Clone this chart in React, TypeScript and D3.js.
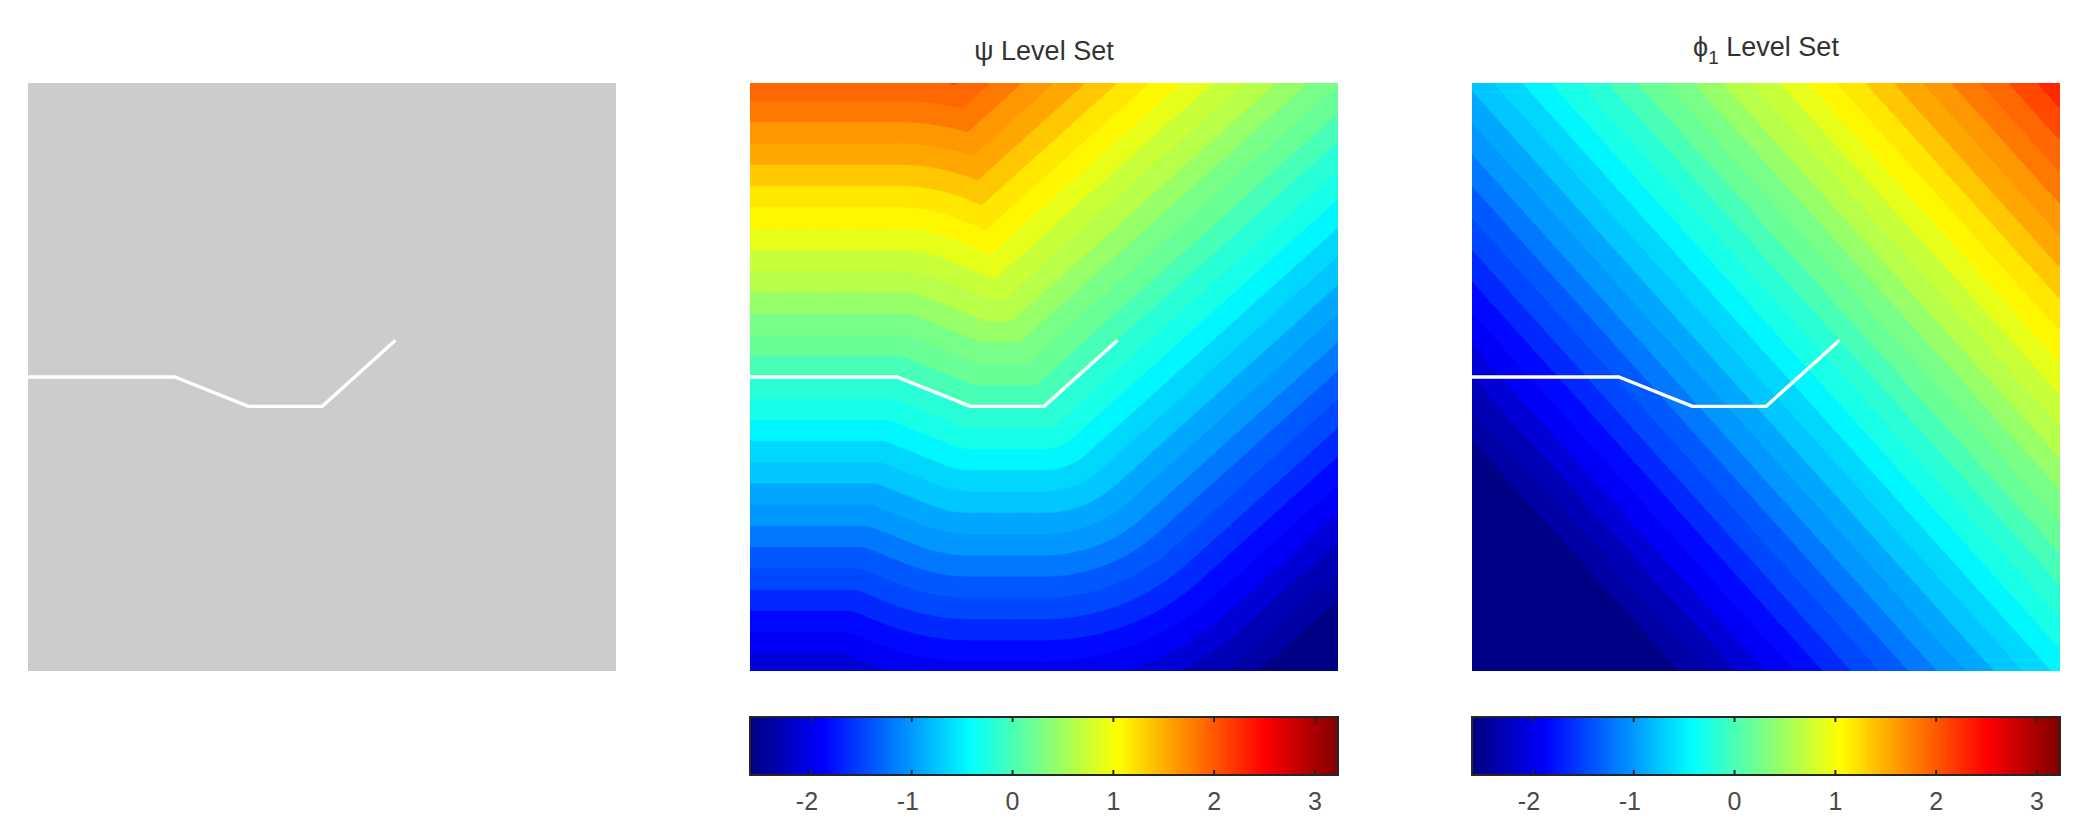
import React, { useMemo } from "react";
import * as d3 from "d3";

// ---------- data ----------
const crackU = [0, 0.25, 0.375, 0.5, 0.625];
const crackV = [0.5, 0.5, 0.45, 0.45, 0.5625];
const colorTicks = [-2, -1, 0, 1, 2, 3];
const cLim = [-2.605, 3.229];
const fieldScale = 4.15; // level-set units per panel width
const levelStep = 0.15;
const levelOffset = 0.0;
const panelTitles = ["", "ψ", "ϕ"];

// ---------- layout ----------
const W = 2086;
const H = 839;
const PANEL = 588;
const TOP = 83;
const panelLefts = [28, 750, 1472];
const CB_TOP = 717;
const CB_H = 58;
const GRID = 220;

function clamp01(x: number) {
  return Math.max(0, Math.min(1, x));
}
function jetCont(x: number) {
  const r = clamp01(1.5 - Math.abs(4 * x - 3));
  const g = clamp01(1.5 - Math.abs(4 * x - 2));
  const b = clamp01(1.5 - Math.abs(4 * x - 1));
  return d3.rgb(r * 255, g * 255, b * 255).formatHex();
}
function jet(t: number) {
  const idx = Math.max(0, Math.min(63, Math.floor(t * 64)));
  return jetCont((idx + 0.5) / 64);
}

function segDist(px: number, py: number, ax: number, ay: number, bx: number, by: number) {
  const dx = bx - ax, dy = by - ay;
  const l2 = dx * dx + dy * dy;
  let t = ((px - ax) * dx + (py - ay) * dy) / l2;
  t = Math.max(0, Math.min(1, t));
  const qx = ax + t * dx, qy = ay + t * dy;
  return Math.hypot(px - qx, py - qy);
}

function buildFields() {
  const n = crackU.length;
  const tx = crackU[n - 1], ty = crackV[n - 1];
  const ddx = tx - crackU[n - 2], ddy = ty - crackV[n - 2];
  const dl = Math.hypot(ddx, ddy);
  const ux = ddx / dl, uy = ddy / dl;
  const xs = [...crackU, tx + ux * 4];
  const ys = [...crackV, ty + uy * 4];
  const psi = new Array(GRID * GRID);
  const phi = new Array(GRID * GRID);
  for (let j = 0; j < GRID; j++) {
    const v = 1 - (j + 0.5) / GRID;
    for (let i = 0; i < GRID; i++) {
      const u = (i + 0.5) / GRID;
      let d = Infinity;
      for (let k = 0; k < xs.length - 1; k++) {
        d = Math.min(d, segDist(u, v, xs[k], ys[k], xs[k + 1], ys[k + 1]));
      }
      let yc = ys[ys.length - 1];
      for (let k = 0; k < xs.length - 1; k++) {
        if (u >= xs[k] && u <= xs[k + 1]) {
          yc = ys[k] + ((u - xs[k]) / (xs[k + 1] - xs[k])) * (ys[k + 1] - ys[k]);
          break;
        }
      }
      const s = v >= yc ? 1 : -1;
      psi[j * GRID + i] = fieldScale * s * d;
      phi[j * GRID + i] = fieldScale * ((u - tx) * ux + (v - ty) * uy);
    }
  }
  return { psi, phi };
}

function Bands({ values, x0 }: { values: number[]; x0: number }) {
  const ext = d3.extent(values) as [number, number];
  const levels: number[] = [];
  for (let L = Math.ceil((ext[0] - levelOffset) / levelStep) * levelStep + levelOffset; L <= ext[1]; L += levelStep) levels.push(L);
  const contours = d3.contours().size([GRID, GRID]).thresholds(levels)(values);
  const path = d3.geoPath(d3.geoIdentity().scale(PANEL / GRID).translate([x0, TOP]) as any);
  const cs = d3.scaleLinear().domain(cLim).range([0, 1]);
  return (
    <g>
      <rect x={x0} y={TOP} width={PANEL} height={PANEL} fill={jet(cs(ext[0]))} />
      {contours.map((c, i) => (
        <path key={i} d={path(c as any) || ""} fill={jet(cs(c.value))} stroke={jet(cs(c.value))} strokeWidth={0.4} />
      ))}
    </g>
  );
}

function Crack({ x0 }: { x0: number }) {
  const xs = d3.scaleLinear().domain([0, 1]).range([x0, x0 + PANEL]);
  const ys = d3.scaleLinear().domain([0, 1]).range([TOP + PANEL, TOP]);
  const line = d3
    .line<number>()
    .x((_, i) => xs(crackU[i]))
    .y((_, i) => ys(crackV[i]));
  return <path d={line(crackU) || ""} fill="none" stroke="#ffffff" strokeWidth={3.4} strokeLinejoin="round" />;
}

function ColorBar({ x0, id }: { x0: number; id: string }) {
  const sx = d3.scaleLinear().domain(cLim).range([x0, x0 + PANEL]);
  const stops = d3.range(0, 1.0001, 1 / 64);
  return (
    <g>
      <defs>
        <linearGradient id={id} x1="0" x2="1" y1="0" y2="0">
          {stops.map((s, k) => (
            <stop key={k} offset={s} stopColor={jetCont(s)} />
          ))}
        </linearGradient>
      </defs>
      <rect x={x0} y={CB_TOP} width={PANEL} height={CB_H} fill={`url(#${id})`} />
      <rect x={x0} y={CB_TOP} width={PANEL} height={CB_H} fill="none" stroke="#262626" strokeWidth={2} />
      {colorTicks.map((t) => (
        <g key={t}>
          <line x1={sx(t)} x2={sx(t)} y1={CB_TOP} y2={CB_TOP + 5} stroke="#262626" strokeWidth={2} />
          <line x1={sx(t)} x2={sx(t)} y1={CB_TOP + CB_H} y2={CB_TOP + CB_H - 5} stroke="#262626" strokeWidth={2} />
          <text
            x={sx(t) - (t < 0 ? 4 : 0)}
            y={810}
            textAnchor="middle"
            fontSize={25}
            fill="#4a4a4a"
            fontFamily="Liberation Sans, Arial, sans-serif"
          >
            {t < 0 ? "-" + Math.abs(t) : String(t)}
          </text>
        </g>
      ))}
    </g>
  );
}

export default function App() {
  const { psi, phi } = useMemo(buildFields, []);
  return (
    <svg
      width={W}
      height={H}
      viewBox={`0 0 ${W} ${H}`}
      style={{ position: "absolute", left: 0, top: 0, display: "block", background: "#ffffff" }}
    >
      <defs>
        {panelLefts.map((x, i) => (
          <clipPath id={`clip${i}`} key={i}>
            <rect x={x} y={TOP} width={PANEL} height={PANEL} />
          </clipPath>
        ))}
      </defs>
      {/* panel 1: geometry */}
      <rect x={panelLefts[0]} y={TOP} width={PANEL} height={PANEL} fill="#cccccc" />
      <Crack x0={panelLefts[0]} />

      {/* panel 2: psi */}
      <g clipPath="url(#clip1)">
        <Bands values={psi} x0={panelLefts[1]} />
        <Crack x0={panelLefts[1]} />
      </g>
      <text x={panelLefts[1] + PANEL / 2} y={60} textAnchor="middle" fontSize={27} fill="#333333" fontFamily="Liberation Sans, Arial, sans-serif">
        {panelTitles[1]} Level Set
      </text>
      <ColorBar x0={panelLefts[1]} id="cb1" />

      {/* panel 3: phi */}
      <g clipPath="url(#clip2)">
        <Bands values={phi} x0={panelLefts[2]} />
        <Crack x0={panelLefts[2]} />
      </g>
      <text x={panelLefts[2] + PANEL / 2} y={56} textAnchor="middle" fontSize={27} fill="#333333" fontFamily="Liberation Sans, Arial, sans-serif">
        {panelTitles[2]}
        <tspan fontSize={19} dy={8}>1</tspan>
        <tspan dy={-8}> Level Set</tspan>
      </text>
      <ColorBar x0={panelLefts[2]} id="cb2" />
    </svg>
  );
}
